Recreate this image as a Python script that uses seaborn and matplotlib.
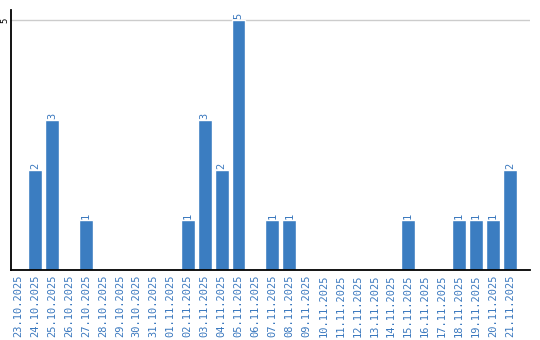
import matplotlib
matplotlib.use("Agg")
import matplotlib.pyplot as plt
import seaborn as sns
import pandas as pd

dates = ["23.10.2025", "24.10.2025", "25.10.2025", "26.10.2025", "27.10.2025",
         "28.10.2025", "29.10.2025", "30.10.2025", "31.10.2025", "01.11.2025",
         "02.11.2025", "03.11.2025", "04.11.2025", "05.11.2025", "06.11.2025",
         "07.11.2025", "08.11.2025", "09.11.2025", "10.11.2025", "11.11.2025",
         "12.11.2025", "13.11.2025", "14.11.2025", "15.11.2025", "16.11.2025",
         "17.11.2025", "18.11.2025", "19.11.2025", "20.11.2025", "21.11.2025"]
values = [0, 2, 3, 0, 1, 0, 0, 0, 0, 0,
          1, 3, 2, 5, 0, 1, 1, 0, 0, 0,
          0, 0, 0, 1, 0, 0, 1, 1, 1, 2]
y_ticks = [5]

BLUE = "#3b7dc1"
LABEL = "#3a78be"

sns.set_style("white")
plt.rcParams['font.family'] = ['DejaVu Sans Mono', 'DejaVu Sans']

df = pd.DataFrame({"date": dates, "value": values})

fig = plt.figure(figsize=(5.4, 3.4), dpi=100)
ax = fig.add_axes([11/540, 1-270/340, 519/540, 260/340])

sns.barplot(data=df, x="date", y="value", color=BLUE, saturation=1,
            width=0.82, ax=ax, order=dates)

for c in ax.containers:
    labels = [str(v) if v > 0 else "" for v in values]
    ax.bar_label(c, labels=labels, rotation=90, color=LABEL, fontsize=7.5, padding=1)

ax.set_xlim(-0.41, 30.18)
ax.set_ylim(0, 5.2)
ax.set_yticks(y_ticks)
ax.set_yticklabels([str(t) for t in y_ticks], rotation=90, fontsize=6.5, va="center")
ax.tick_params(axis="y", length=0, pad=1, colors="black")
ax.tick_params(axis="x", length=0, pad=3, labelrotation=90, labelsize=7.5, labelcolor=LABEL)
for lbl in ax.get_xticklabels():
    lbl.set_va("top")
ax.set_xlabel("")
ax.set_ylabel("")
ax.grid(False)
ax.axhline(5, color="#cccccc", lw=1, zorder=0)

for s in ["top", "right"]:
    ax.spines[s].set_visible(False)
for s in ["left", "bottom"]:
    ax.spines[s].set_color("black")
    ax.spines[s].set_linewidth(1.3)

fig.savefig("out.png", dpi=100)
